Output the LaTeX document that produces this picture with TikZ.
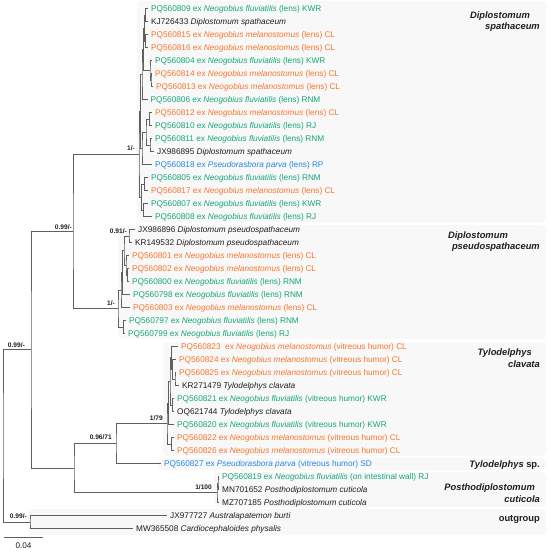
\documentclass[tikz,border=0pt]{standalone}
\usepackage{fontspec}
\setmainfont{Liberation Sans}
\usetikzlibrary{calc}
\definecolor{cgreen}{RGB}{20,165,122}
\definecolor{corange}{RGB}{247,117,42}
\definecolor{cblue}{RGB}{36,136,222}
\definecolor{cblack}{RGB}{30,30,30}
\definecolor{cbranch}{RGB}{95,95,95}
\definecolor{cpanel}{RGB}{248,248,248}
\tikzset{
  br/.style={draw=cbranch,line width=0.9pt},
  lab/.style={anchor=base west,inner sep=0pt,xshift=3pt,yshift=-2.9pt,font=\fontsize{8.25}{9.8}\selectfont},
  suplab/.style={anchor=base east,inner sep=0pt,text=cblack,font=\fontsize{6.6}{8}\selectfont\bfseries},
  clade/.style={anchor=base east,inner sep=0pt,text=cblack,font=\fontsize{9.35}{11}\selectfont\bfseries\itshape},
  panel/.style={fill=cpanel,rounded corners=4pt}
}
\newcommand\lf[4]{\coordinate (l#1) at (#2,{8.5+13*(#1-1)}); \node[lab,text=#3] (t#1) at (l#1) {#4};}
\newcommand\tn[4]{\path let \p1=(#3), \p2=(#4) in (#2pt,{0.5*(\y1+\y2)}) coordinate (#1);
  \draw[br] (#3) -| (#1) |- (#4);}
\newcommand\fl[2]{#1 ex \textit{Neogobius fluviatilis} #2}
\newcommand\ml[2]{#1 ex \textit{Neogobius melanostomus} #2}
\begin{document}
\begin{tikzpicture}[x=1pt,y=-1pt]
\useasboundingbox (0,0) rectangle (550,553);
% panels
\fill[panel] (137,1) rectangle (546,222);
\fill[panel] (118,225) rectangle (546,339);
\fill[panel] (163,342) rectangle (546,456);
\fill[panel] (158,458) rectangle (546,470);
\fill[panel] (214,472) rectangle (546,507);
\fill[panel] (28,509) rectangle (546,535);
% leaves
\lf{1}{148}{cgreen}{\fl{PQ560809}{(lens) KWR}}
\lf{2}{148}{cblack}{KJ726433 \textit{Diplostomum spathaceum}}
\lf{3}{148}{corange}{\ml{PQ560815}{(lens) CL}}
\lf{4}{148}{corange}{\ml{PQ560816}{(lens) CL}}
\lf{5}{152}{cgreen}{\fl{PQ560804}{(lens) KWR}}
\lf{6}{152}{corange}{\ml{PQ560814}{(lens) CL}}
\lf{7}{153}{corange}{\ml{PQ560813}{(lens) CL}}
\lf{8}{147.5}{cgreen}{\fl{PQ560806}{(lens) RNM}}
\lf{9}{152}{corange}{\ml{PQ560812}{(lens) CL}}
\lf{10}{152}{cgreen}{\fl{PQ560810}{(lens) RJ}}
\lf{11}{152}{cgreen}{\fl{PQ560811}{(lens) RNM}}
\lf{12}{154}{cblack}{JX986895 \textit{Diplostomum spathaceum}}
\lf{13}{152}{cblue}{PQ560818 ex \textit{Pseudorasbora parva} (lens) RP}
\lf{14}{148}{cgreen}{\fl{PQ560805}{(lens) RNM}}
\lf{15}{148}{corange}{\ml{PQ560817}{(lens) CL}}
\lf{16}{148}{cgreen}{\fl{PQ560807}{(lens) KWR}}
\lf{17}{152}{cgreen}{\fl{PQ560808}{(lens) RJ}}
\lf{18}{135}{cblack}{JX986896 \textit{Diplostomum pseudospathaceum}}
\lf{19}{132}{cblack}{KR149532 \textit{Diplostomum pseudospathaceum}}
\lf{20}{129}{corange}{\ml{PQ560801}{(lens) CL}}
\lf{21}{129}{corange}{\ml{PQ560802}{(lens) CL}}
\lf{22}{129}{cgreen}{\fl{PQ560800}{(lens) RNM}}
\lf{23}{130}{cgreen}{\fl{PQ560798}{(lens) RNM}}
\lf{24}{130}{corange}{\ml{PQ560803}{(lens) CL}}
\lf{25}{126}{cgreen}{\fl{PQ560797}{(lens) RNM}}
\lf{26}{125}{cgreen}{\fl{PQ560799}{(lens) RJ}}
\lf{27}{178}{corange}{PQ560823\ \ ex \textit{Neogobius melanostomus} (vitreous humor) CL}
\lf{28}{176}{corange}{\ml{PQ560824}{(vitreous humor) CL}}
\lf{29}{176}{corange}{\ml{PQ560825}{(vitreous humor) CL}}
\lf{30}{179}{cblack}{KR271479 \textit{Tylodelphys clavata}}
\lf{31}{174}{cgreen}{\fl{PQ560821}{(vitreous humor) KWR}}
\lf{32}{174}{cblack}{OQ621744 \textit{Tylodelphys clavata}}
\lf{33}{174}{cgreen}{\fl{PQ560820}{(vitreous humor) KWR}}
\lf{34}{174}{corange}{\ml{PQ560822}{(vitreous humor) CL}}
\lf{35}{174}{corange}{\ml{PQ560826}{(vitreous humor) CL}}
\lf{36}{161}{cblue}{PQ560827 ex \textit{Pseudorasbora parva} (vitreous humor) SD}
\lf{37}{219}{cgreen}{\fl{PQ560819}{(on intestinal wall) RJ}}
\lf{38}{219}{cblack}{MN701652 \textit{Posthodiplostomum cuticola}}
\lf{39}{219}{cblack}{MZ707185 \textit{Posthodiplostomum cuticola}}
\lf{40}{167}{cblack}{JX977727 \textit{Australapatemon burti}}
\lf{41}{133}{cblack}{MW365508 \textit{Cardiocephaloides physalis}}
% Diplostomum spathaceum
\tn{nN3a}{145.5}{l1}{l2}
\tn{nN3b}{145.5}{l3}{l4}
\tn{nN3}{144.5}{nN3a}{nN3b}
\tn{nN4b}{151}{l6}{l7}
\tn{nN4}{150}{l5}{nN4b}
\tn{nN2}{143.5}{nN3}{nN4}
\tn{nN1}{142}{nN2}{l8}
\tn{nN7}{149.5}{l9}{l10}
\tn{nN8}{150}{l11}{l12}
\tn{nN6}{146}{nN7}{nN8}
\tn{nN5}{142}{nN6}{l13}
\tn{nA}{140.5}{nN1}{nN5}
\tn{nBa}{144.5}{l14}{l15}
\tn{nBb}{143.5}{l16}{l17}
\tn{nB}{141.5}{nBa}{nBb}
\tn{nS}{139}{nA}{nB}
% Diplostomum pseudospathaceum
\tn{nPe}{129}{l18}{l19}
\tn{nPg}{127.5}{l21}{l22}
\tn{nPf}{126}{l20}{nPg}
\tn{nPc}{124}{nPe}{nPf}
\tn{nPc2}{122.5}{nPc}{l23}
\tn{nPa}{121}{nPc2}{l24}
\tn{nPb}{123.5}{l25}{l26}
\tn{nP}{118}{nPa}{nPb}
\tn{nD}{73}{nS}{nP}
% Tylodelphys
\tn{nTc8}{175}{l29}{l30}
\tn{nTc7}{172.5}{l28}{nTc8}
\tn{nTc4}{171.5}{l27}{nTc7}
\tn{nTc5}{172.5}{l31}{l32}
\tn{nTc3}{170}{nTc4}{nTc5}
\tn{nTc1}{168.5}{nTc3}{l33}
\tn{nTc2}{171.5}{l34}{l35}
\tn{nTc}{167}{nTc1}{nTc2}
\tn{nTA}{116}{nTc}{l36}
% Posthodiplostomum
\tn{nPn1}{218}{l37}{l38}
\tn{nPost}{217}{nPn1}{l39}
\tn{nTP}{74}{nTA}{nPost}
\tn{nI}{31}{nD}{nTP}
% outgroup and root
\tn{nO}{30}{l40}{l41}
\tn{nR}{3}{nI}{nO}
% support values
\node[suplab] (sI) at ([shift={(-6,-2.2)}]nI) {0.99/-};
\node[suplab] (sD) at ([shift={(-1,-1.8)}]nD) {0.99/-};
\node[suplab] (sS) at ([shift={(-4,-4)}]nS) {1/-};
\node[suplab] (sP) at ([shift={(-3,-3.5)}]nP) {1/-};
\node[suplab] (sPe) at ([shift={(-2,-3)}]nPe) {0.91/-};
\node[suplab] (sTc) at ([shift={(-4,-2.8)}]nTc) {1/79};
\node[suplab] (sTA) at ([shift={(-4,-3.5)}]nTA) {0.96/71};
\node[suplab] (sPost) at ([shift={(-5,-3.7)}]nPost) {1/100};
\node[suplab] (sO) at ([shift={(-3,-3.6)}]nO) {0.99/-};
% clade labels
\node[clade] (c1a) at (530,19) {Diplostomum};
\node[clade] (c1b) at (540,29.5) {spathaceum};
\node[clade] (c2a) at (508,238.5) {Diplostomum};
\node[clade] (c2b) at (540,249) {pseudospathaceum};
\node[clade] (c3a) at (532,355) {Tylodelphys};
\node[clade] (c3b) at (540,367) {clavata};
\node[clade] (c4) at (540,467) {Tylodelphys \upshape sp.};
\node[clade] (c5a) at (535,490.5) {Posthodiplostomum};
\node[clade] (c5b) at (540,502) {cuticola};
\node[clade,font=\fontsize{9.35}{11}\selectfont\bfseries] (c6) at (540,521) {outgroup};
% scale bar
\coordinate (sb1) at (4,537);
\coordinate (sb2) at (43,537);
\draw[br] (sb1) -- (sb2);
\node[inner sep=0pt,text=cblack,font=\fontsize{8.2}{9.8}\selectfont] (sbl) at (23.5,545.5) {0.04};
\end{tikzpicture}
\end{document}
